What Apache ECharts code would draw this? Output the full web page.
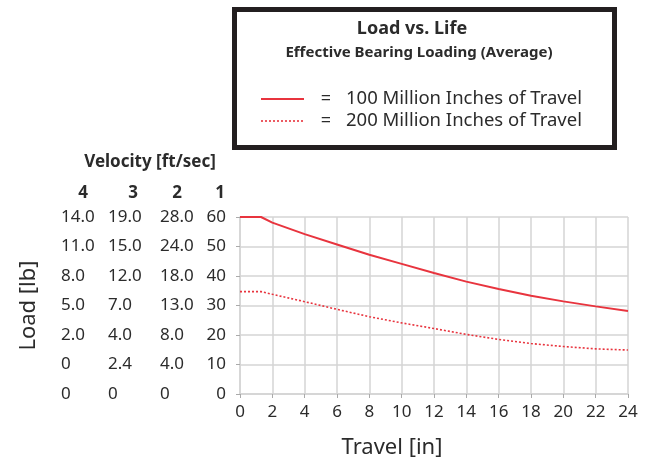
<!DOCTYPE html>
<html>
<head>
<meta charset="utf-8">
<script src="https://cdn.jsdelivr.net/npm/echarts@6/dist/echarts.min.js"></script>
<style>
  html, body { margin: 0; padding: 0; background: #fff; }
  #chart { width: 645px; height: 462px; }
</style>
</head>
<body>
<div id="chart"></div>
<script>
// travel [in] and load [lb]
const travel = [0, 1.3, 2, 4, 6, 8, 10, 12, 14, 16, 18, 20, 22, 24]
const load100 = [60, 60, 58.1, 54.2, 50.7, 47.2, 44.1, 41.0, 38.1, 35.6, 33.3, 31.4, 29.7, 28.1]
const load200 = [34.7, 34.7, 33.8, 31.3, 28.7, 26.2, 24.1, 22.2, 20.2, 18.5, 17.1, 16.1, 15.3, 14.9]

// velocity columns (bottom to top), one per ft/sec
const velocityHeads = ['4', '3', '2', '1']
const vel4 = ['0', '0', '2.0', '5.0', '8.0', '11.0', '14.0']
const vel3 = ['0', '2.4', '4.0', '7.0', '12.0', '15.0', '19.0']
const vel2 = ['0', '4.0', '8.0', '13.0', '18.0', '24.0', '28.0']

const legendNames = ['100 Million Inches of Travel', '200 Million Inches of Travel']

const RED = '#e8343e'
const GRID = '#d4d4d4'
const TXT = '#2b2b2b'
const FONT = '"Noto Sans"'

const chart = echarts.init(document.getElementById('chart'))

// extra label column on the left (no line, no ticks)
const labelAxis = (labels, x) => ({
  type: 'value', position: 'left', offset: 240 - x,
  min: 0, max: 60, interval: 10,
  axisLine: { show: false }, axisTick: { show: false }, splitLine: { show: false },
  axisLabel: { align: 'left', margin: 0, color: TXT, fontSize: 17, fontFamily: 'Noto Sans',
    formatter: v => labels[v / 10] }
})

const pairs = arr => travel.map((t, i) => [t, arr[i]])

chart.setOption({
  animation: false,
  grid: { left: 240, right: 17, top: 217, bottom: 68 },
  xAxis: {
    type: 'value', min: 0, max: 24, interval: 2,
    name: 'Travel [in]', nameLocation: 'middle', nameGap: 43,
    // title sits left of the plot centre in the original
    nameTextStyle: { fontSize: 22, color: TXT, fontFamily: 'Noto Sans', padding: [0, 84, 0, 0] },
    axisLine: { lineStyle: { color: GRID, width: 1.5 } },
    axisTick: { show: true, length: 4, lineStyle: { color: '#aaa' } },
    axisLabel: { margin: 10, color: TXT, fontSize: 17, fontFamily: 'Noto Sans' },
    splitLine: { lineStyle: { color: GRID, width: 1.5 } }
  },
  yAxis: [
    {
      type: 'value', min: 0, max: 60, interval: 10,
      name: 'Load [lb]', nameLocation: 'middle', nameGap: 200,
      nameTextStyle: { fontSize: 22, color: TXT, fontFamily: 'Noto Sans' },
      axisLine: { show: true, lineStyle: { color: GRID, width: 1.5 } },
      axisTick: { show: true, length: 4, lineStyle: { color: '#aaa' } },
      axisLabel: { margin: 14, color: TXT, fontSize: 17, fontFamily: 'Noto Sans' },
      splitLine: { lineStyle: { color: GRID, width: 1.5 } }
    },
    labelAxis(vel2, 160),
    labelAxis(vel3, 108),
    labelAxis(vel4, 61)
  ],
  series: [
    {
      name: legendNames[0], type: 'line', data: pairs(load100), showSymbol: false,
      lineStyle: { color: RED, width: 2 }
    },
    {
      name: legendNames[1], type: 'line', data: pairs(load200), showSymbol: false,
      lineStyle: { color: RED, width: 1.6, type: [2, 2] }
    }
  ],
  graphic: [
    // legend box
    { type: 'rect', shape: { x: 234.5, y: 9.5, width: 380, height: 138 },
      style: { fill: '#fff', stroke: '#231f20', lineWidth: 5 } },
    { type: 'text', x: 412, y: 29, style: { text: 'Load vs. Life', fill: TXT, font: 'bold 18px ' + FONT, align: 'center', verticalAlign: 'middle' } },
    { type: 'text', x: 419, y: 53, style: { text: 'Effective Bearing Loading (Average)', fill: TXT, font: 'bold 15px ' + FONT, align: 'center', verticalAlign: 'middle' } },
    { type: 'line', shape: { x1: 261, y1: 99, x2: 304, y2: 99 }, style: { stroke: RED, lineWidth: 2 } },
    { type: 'line', shape: { x1: 261, y1: 121, x2: 304, y2: 121 }, style: { stroke: RED, lineWidth: 1.6, lineDash: [2, 2] } },
    { type: 'text', x: 326, y: 99, style: { text: '=', fill: TXT, font: '18px ' + FONT, align: 'center', verticalAlign: 'middle' } },
    { type: 'text', x: 326, y: 121, style: { text: '=', fill: TXT, font: '18px ' + FONT, align: 'center', verticalAlign: 'middle' } },
    { type: 'text', x: 346, y: 99, style: { text: legendNames[0], fill: TXT, font: '18.5px ' + FONT, verticalAlign: 'middle' } },
    { type: 'text', x: 346, y: 121, style: { text: legendNames[1], fill: TXT, font: '18.5px ' + FONT, verticalAlign: 'middle' } },
    // velocity header
    { type: 'text', x: 150, y: 162, style: { text: 'Velocity [ft/sec]', fill: TXT, font: 'bold 17px ' + FONT, align: 'center', verticalAlign: 'middle' } },
    ...velocityHeads.map((h, i) => ({
      type: 'text', x: [83, 133, 177, 220][i], y: 193,
      style: { text: h, fill: TXT, font: 'bold 17px ' + FONT, align: 'center', verticalAlign: 'middle' }
    }))
  ]
})
</script>
</body>
</html>
